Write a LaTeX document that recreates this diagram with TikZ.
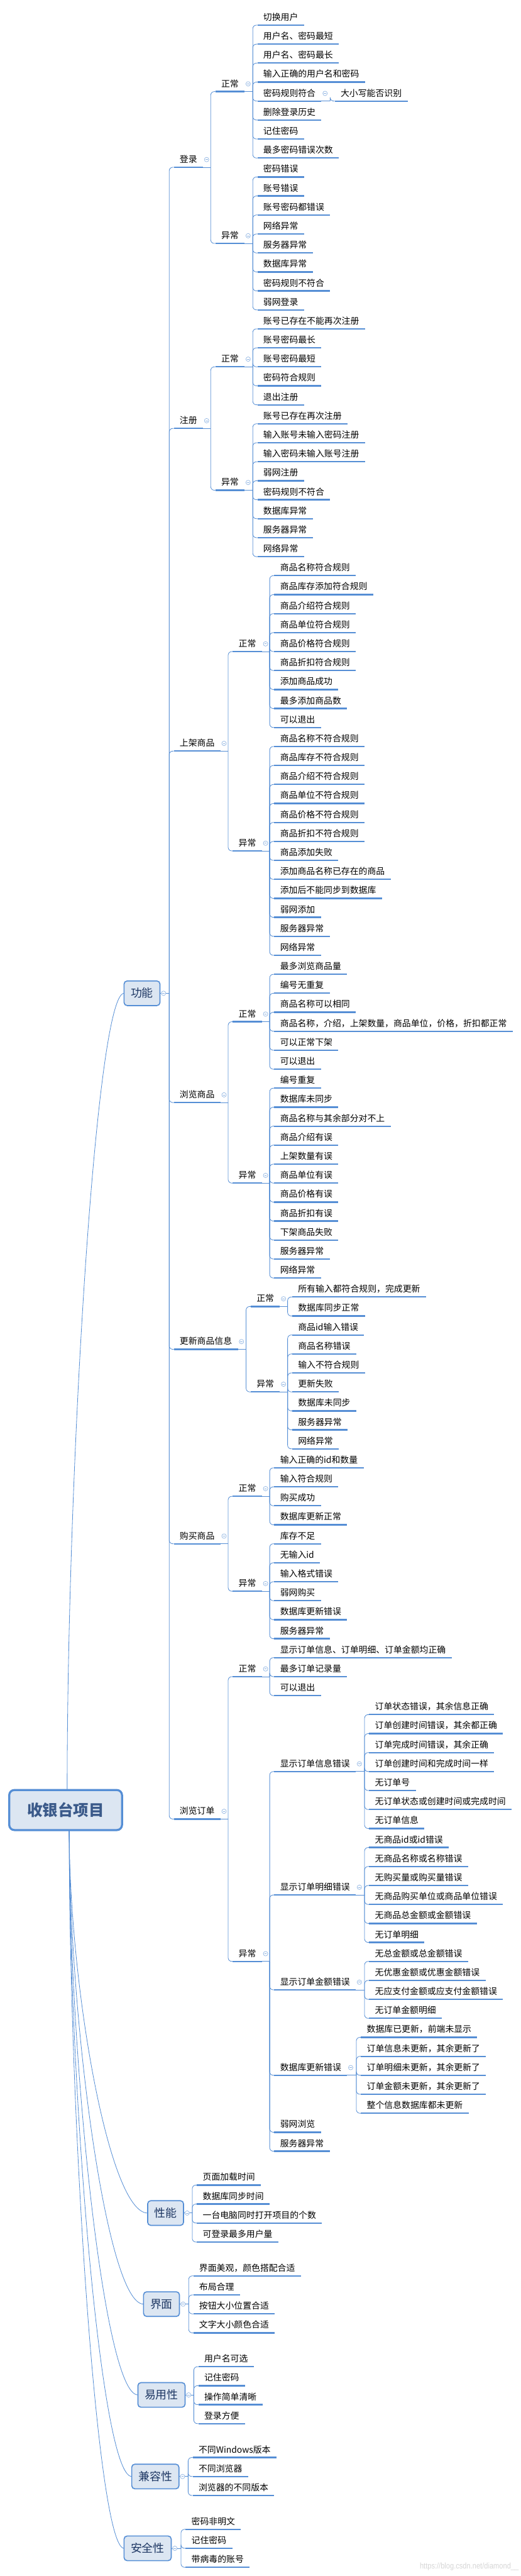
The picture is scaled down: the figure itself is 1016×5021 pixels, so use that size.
\documentclass[tikz,border=0pt]{standalone}
\usepackage{fontspec}
\setmainfont{Noto Sans CJK SC}
\newfontfamily\wmfont{Liberation Sans}
\definecolor{ln}{HTML}{558ED5}
\definecolor{tgc}{HTML}{8DB3E2}
\definecolor{bxf}{HTML}{DCE6F2}
\definecolor{bxt}{HTML}{1F3864}
\definecolor{rtt}{HTML}{3B5A8A}
\definecolor{wm}{HTML}{D6D6D6}
\tikzset{
  lf/.style={anchor=west, inner xsep=5.75pt, inner ysep=0pt, outer sep=0pt, text height=7.1pt, text depth=0.85pt, font=\fontsize{8.5pt}{10pt}\selectfont, text=black},
  ul/.style={draw=ln, line width=1.4pt},
  conn/.style={draw=ln, line width=0.5pt, rounded corners=3.5pt},
  bx/.style={anchor=west, draw=ln, fill=bxf, line width=1pt, rounded corners=3pt, minimum height=24pt, inner xsep=6.5pt, inner ysep=0pt, outer sep=0pt, text height=9.2pt, text depth=1.1pt, font=\fontsize{11pt}{13pt}\selectfont, text=bxt},
  rootbox/.style={draw=ln, fill=bxf, line width=2pt, rounded corners=5pt, minimum width=110pt, minimum height=39pt, inner sep=0pt, outer sep=0pt, font=\fontsize{15pt}{18pt}\selectfont\bfseries, text=rtt},
  tg/.style={circle, draw=tgc, fill=white, line width=0.4pt, minimum size=4.4pt, inner sep=0pt,
    path picture={\draw[tgc, line width=0.4pt] ([xshift=-1.1pt]path picture bounding box.center) -- ([xshift=1.1pt]path picture bounding box.center);}},
}
% name, x0, underline y, text
\newcommand\nd[4]{%
  \coordinate (#1-l) at (#2,#3);
  \node[lf] (#1) at (#2,#3-15.5) {#4};
  \coordinate (#1-r) at (#1.east |- #1-l);
  \draw[ul] (#1-l) -- (#1-r);}
% leaf number, x0, text
\newcommand\lv[3]{\nd{L#1}{#2}{49+37*#1}{#3}}
% name, junction x, underline y
\newcommand\stem[3]{%
  \coordinate (#1-j) at (#2,#3);
  \draw[conn] (#1-r) -- (#1-j);
  \node[tg] (#1-t) at ([xshift=3.5pt,yshift=7.5pt]#1-r) {};}
% box stem: name, junction x, y
\newcommand\bstem[3]{%
  \coordinate (#1-j) at (#2,#3);
  \draw[conn] (#1.east) -- (#1-j);
  \node[tg] (#1-t) at ([xshift=3.5pt]#1.east) {};}
\newcommand\kids[2]{\foreach \kk in {#2}{\draw[conn] (#1-j) |- (\kk-l);}}
\newcommand\kidsr[3]{\foreach \kk in {#2,...,#3}{\draw[conn] (#1-j) |- (L\kk-l);}}

\begin{document}
\begin{tikzpicture}[x=0.5pt,y=-0.5pt]
\fill[white] (0,0) rectangle (1016,5021);
\useasboundingbox (0,0) rectangle (1016,5021);

% root and level-1 boxes
\node[rootbox] (root) at (128,3528) {收银台项目};
\node[bx] (gn) at (242,1936) {功能};
\node[bx] (xn) at (288,4313.5) {性能};
\node[bx] (jm) at (280,4491) {界面};
\node[bx] (yy) at (269,4668) {易用性};
\node[bx] (jr) at (257,4827) {兼容性};
\node[bx] (aq) at (242,4967) {安全性};

\draw[conn] ([xshift=1.5pt]root.north) .. controls (131,2867) and (187,1936) .. (gn.west);
\draw[conn] ([xshift=3.5pt]root.south) .. controls (135,3866) and (212,4313.5) .. (xn.west);
\draw[conn] ([xshift=3.5pt]root.south) .. controls (135,3937) and (208,4491) .. (jm.west);
\draw[conn] ([xshift=3.5pt]root.south) .. controls (135,4008) and (202,4668) .. (yy.west);
\draw[conn] ([xshift=3.5pt]root.south) .. controls (135,4072) and (196,4827) .. (jr.west);
\draw[conn] ([xshift=3.5pt]root.south) .. controls (135,4128) and (189,4967) .. (aq.west);

% level 2 under 功能
\nd{dl}{339}{326}{登录}
\nd{zc}{339}{835}{注册}
\nd{sj}{339}{1464}{上架商品}
\nd{ll}{339}{2149}{浏览商品}
\nd{gx}{339}{2630}{更新商品信息}
\nd{gm}{339}{3009}{购买商品}
\nd{dd}{339}{3545.5}{浏览订单}
\bstem{gn}{330}{1936}
\kids{gn}{dl,zc,sj,ll,gx,gm,dd}

% level 3
\nd{dlz}{420}{178.5}{正常}
\nd{dly}{420}{474.5}{异常}
\nd{zcz}{420}{715}{正常}
\nd{zcy}{420}{955.5}{异常}
\nd{sjz}{454}{1270}{正常}
\nd{sjy}{454}{1658.5}{异常}
\nd{llz}{454}{1991.5}{正常}
\nd{lly}{454}{2306}{异常}
\nd{gxz}{489}{2546.5}{正常}
\nd{gxy}{489}{2713}{异常}
\nd{gmz}{454}{2916.5}{正常}
\nd{gmy}{454}{3101.5}{异常}
\nd{ddz}{454}{3268}{正常}
\nd{ddy}{454}{3823}{异常}
\stem{dl}{411}{326}\kids{dl}{dlz,dly}
\stem{zc}{411}{835}\kids{zc}{zcz,zcy}
\stem{sj}{445}{1464}\kids{sj}{sjz,sjy}
\stem{ll}{445}{2149}\kids{ll}{llz,lly}
\stem{gx}{480}{2630}\kids{gx}{gxz,gxy}
\stem{gm}{445}{3009}\kids{gm}{gmz,gmy}
\stem{dd}{445}{3545.5}\kids{dd}{ddz,ddy}

% leaves: 登录
\lv{0}{502}{切换用户}
\lv{1}{502}{用户名、密码最短}
\lv{2}{502}{用户名、密码最长}
\lv{3}{502}{输入正确的用户名和密码}
\lv{4}{502}{密码规则符合}
\lv{5}{502}{删除登录历史}
\lv{6}{502}{记住密码}
\lv{7}{502}{最多密码错误次数}
\lv{8}{502}{密码错误}
\lv{9}{502}{账号错误}
\lv{10}{502}{账号密码都错误}
\lv{11}{502}{网络异常}
\lv{12}{502}{服务器异常}
\lv{13}{502}{数据库异常}
\lv{14}{502}{密码规则不符合}
\lv{15}{502}{弱网登录}
\nd{L4a}{653}{197}{大小写能否识别}
\stem{L4}{644}{197}\kids{L4}{L4a}
% 注册
\lv{16}{502}{账号已存在不能再次注册}
\lv{17}{502}{账号密码最长}
\lv{18}{502}{账号密码最短}
\lv{19}{502}{密码符合规则}
\lv{20}{502}{退出注册}
\lv{21}{502}{账号已存在再次注册}
\lv{22}{502}{输入账号未输入密码注册}
\lv{23}{502}{输入密码未输入账号注册}
\lv{24}{502}{弱网注册}
\lv{25}{502}{密码规则不符合}
\lv{26}{502}{数据库异常}
\lv{27}{502}{服务器异常}
\lv{28}{502}{网络异常}
% 上架商品
\lv{29}{535}{商品名称符合规则}
\lv{30}{535}{商品库存添加符合规则}
\lv{31}{535}{商品介绍符合规则}
\lv{32}{535}{商品单位符合规则}
\lv{33}{535}{商品价格符合规则}
\lv{34}{535}{商品折扣符合规则}
\lv{35}{535}{添加商品成功}
\lv{36}{535}{最多添加商品数}
\lv{37}{535}{可以退出}
\lv{38}{535}{商品名称不符合规则}
\lv{39}{535}{商品库存不符合规则}
\lv{40}{535}{商品介绍不符合规则}
\lv{41}{535}{商品单位不符合规则}
\lv{42}{535}{商品价格不符合规则}
\lv{43}{535}{商品折扣不符合规则}
\lv{44}{535}{商品添加失败}
\lv{45}{535}{添加商品名称已存在的商品}
\lv{46}{535}{添加后不能同步到数据库}
\lv{47}{535}{弱网添加}
\lv{48}{535}{服务器异常}
\lv{49}{535}{网络异常}
% 浏览商品
\lv{50}{535}{最多浏览商品量}
\lv{51}{535}{编号无重复}
\lv{52}{535}{商品名称可以相同}
\lv{53}{535}{商品名称，介绍，上架数量，商品单位，价格，折扣都正常}
\lv{54}{535}{可以正常下架}
\lv{55}{535}{可以退出}
\lv{56}{535}{编号重复}
\lv{57}{535}{数据库未同步}
\lv{58}{535}{商品名称与其余部分对不上}
\lv{59}{535}{商品介绍有误}
\lv{60}{535}{上架数量有误}
\lv{61}{535}{商品单位有误}
\lv{62}{535}{商品价格有误}
\lv{63}{535}{商品折扣有误}
\lv{64}{535}{下架商品失败}
\lv{65}{535}{服务器异常}
\lv{66}{535}{网络异常}
% 更新商品信息
\lv{67}{570}{所有输入都符合规则，完成更新}
\lv{68}{570}{数据库同步正常}
\lv{69}{570}{商品id输入错误}
\lv{70}{570}{商品名称错误}
\lv{71}{570}{输入不符合规则}
\lv{72}{570}{更新失败}
\lv{73}{570}{数据库未同步}
\lv{74}{570}{服务器异常}
\lv{75}{570}{网络异常}
% 购买商品
\lv{76}{535}{输入正确的id和数量}
\lv{77}{535}{输入符合规则}
\lv{78}{535}{购买成功}
\lv{79}{535}{数据库更新正常}
\lv{80}{535}{库存不足}
\lv{81}{535}{无输入id}
\lv{82}{535}{输入格式错误}
\lv{83}{535}{弱网购买}
\lv{84}{535}{数据库更新错误}
\lv{85}{535}{服务器异常}
% 浏览订单
\lv{86}{535}{显示订单信息、订单明细、订单金额均正确}
\lv{87}{535}{最多订单记录量}
\lv{88}{535}{可以退出}
\nd{o1}{535}{3453}{显示订单信息错误}
\nd{o2}{535}{3693.5}{显示订单明细错误}
\nd{o3}{535}{3878.5}{显示订单金额错误}
\nd{o4}{535}{4045}{数据库更新错误}
\lv{89}{720}{订单状态错误，其余信息正确}
\lv{90}{720}{订单创建时间错误，其余都正确}
\lv{91}{720}{订单完成时间错误，其余正确}
\lv{92}{720}{订单创建时间和完成时间一样}
\lv{93}{720}{无订单号}
\lv{94}{720}{无订单状态或创建时间或完成时间}
\lv{95}{720}{无订单信息}
\lv{96}{720}{无商品id或id错误}
\lv{97}{720}{无商品名称或名称错误}
\lv{98}{720}{无购买量或购买量错误}
\lv{99}{720}{无商品购买单位或商品单位错误}
\lv{100}{720}{无商品总金额或金额错误}
\lv{101}{720}{无订单明细}
\lv{102}{720}{无总金额或总金额错误}
\lv{103}{720}{无优惠金额或优惠金额错误}
\lv{104}{720}{无应支付金额或应支付金额错误}
\lv{105}{720}{无订单金额明细}
\lv{106}{704}{数据库已更新，前端未显示}
\lv{107}{704}{订单信息未更新，其余更新了}
\lv{108}{704}{订单明细未更新，其余更新了}
\lv{109}{704}{订单金额未更新，其余更新了}
\lv{110}{704}{整个信息数据库都未更新}
\lv{111}{535}{弱网浏览}
\lv{112}{535}{服务器异常}

% stems of level 3 / 4
\stem{dlz}{493}{178.5}\kidsr{dlz}{0}{7}
\stem{dly}{493}{474.5}\kidsr{dly}{8}{15}
\stem{zcz}{493}{715}\kidsr{zcz}{16}{20}
\stem{zcy}{493}{955.5}\kidsr{zcy}{21}{28}
\stem{sjz}{526}{1270}\kidsr{sjz}{29}{37}
\stem{sjy}{526}{1658.5}\kidsr{sjy}{38}{49}
\stem{llz}{526}{1991.5}\kidsr{llz}{50}{55}
\stem{lly}{526}{2306}\kidsr{lly}{56}{66}
\stem{gxz}{561}{2546.5}\kidsr{gxz}{67}{68}
\stem{gxy}{561}{2713}\kidsr{gxy}{69}{75}
\stem{gmz}{526}{2916.5}\kidsr{gmz}{76}{79}
\stem{gmy}{526}{3101.5}\kidsr{gmy}{80}{85}
\stem{ddz}{526}{3268}\kidsr{ddz}{86}{88}
\stem{ddy}{526}{3823}\kids{ddy}{o1,o2,o3,o4,L111,L112}
\stem{o1}{711}{3453}\kidsr{o1}{89}{95}
\stem{o2}{711}{3693.5}\kidsr{o2}{96}{101}
\stem{o3}{711}{3878.5}\kidsr{o3}{102}{105}
\stem{o4}{695}{4045}\kidsr{o4}{106}{110}

% 性能
\nd{p1}{384}{4259}{页面加载时间}
\nd{p2}{384}{4296}{数据库同步时间}
\nd{p3}{384}{4333}{一台电脑同时打开项目的个数}
\nd{p4}{384}{4370}{可登录最多用户量}
\bstem{xn}{375}{4313.5}\kids{xn}{p1,p2,p3,p4}
% 界面
\nd{m1}{377}{4436}{界面美观，颜色搭配合适}
\nd{m2}{377}{4473}{布局合理}
\nd{m3}{377}{4510}{按钮大小位置合适}
\nd{m4}{377}{4547}{文字大小颜色合适}
\bstem{jm}{368}{4491}\kids{jm}{m1,m2,m3,m4}
% 易用性
\nd{e1}{387}{4613}{用户名可选}
\nd{e2}{387}{4650}{记住密码}
\nd{e3}{387}{4687}{操作简单清晰}
\nd{e4}{387}{4724}{登录方便}
\bstem{yy}{378}{4668}\kids{yy}{e1,e2,e3,e4}
% 兼容性
\nd{c1}{376}{4790}{不同Windows版本}
\nd{c2}{376}{4827}{不同浏览器}
\nd{c3}{376}{4864}{浏览器的不同版本}
\bstem{jr}{367}{4827}\kids{jr}{c1,c2,c3}
% 安全性
\nd{s1}{362}{4930}{密码非明文}
\nd{s2}{362}{4967}{记住密码}
\nd{s3}{362}{5004}{带病毒的账号}
\bstem{aq}{353}{4967}\kids{aq}{s1,s2,s3}

% watermark
\node[anchor=east, text=wm, font=\wmfont\fontsize{8pt}{9pt}\selectfont, xscale=0.85, inner sep=0pt] (wmk) at (1012,5003) {https://blog.csdn.net/diamond\_\_};
\end{tikzpicture}
\end{document}
